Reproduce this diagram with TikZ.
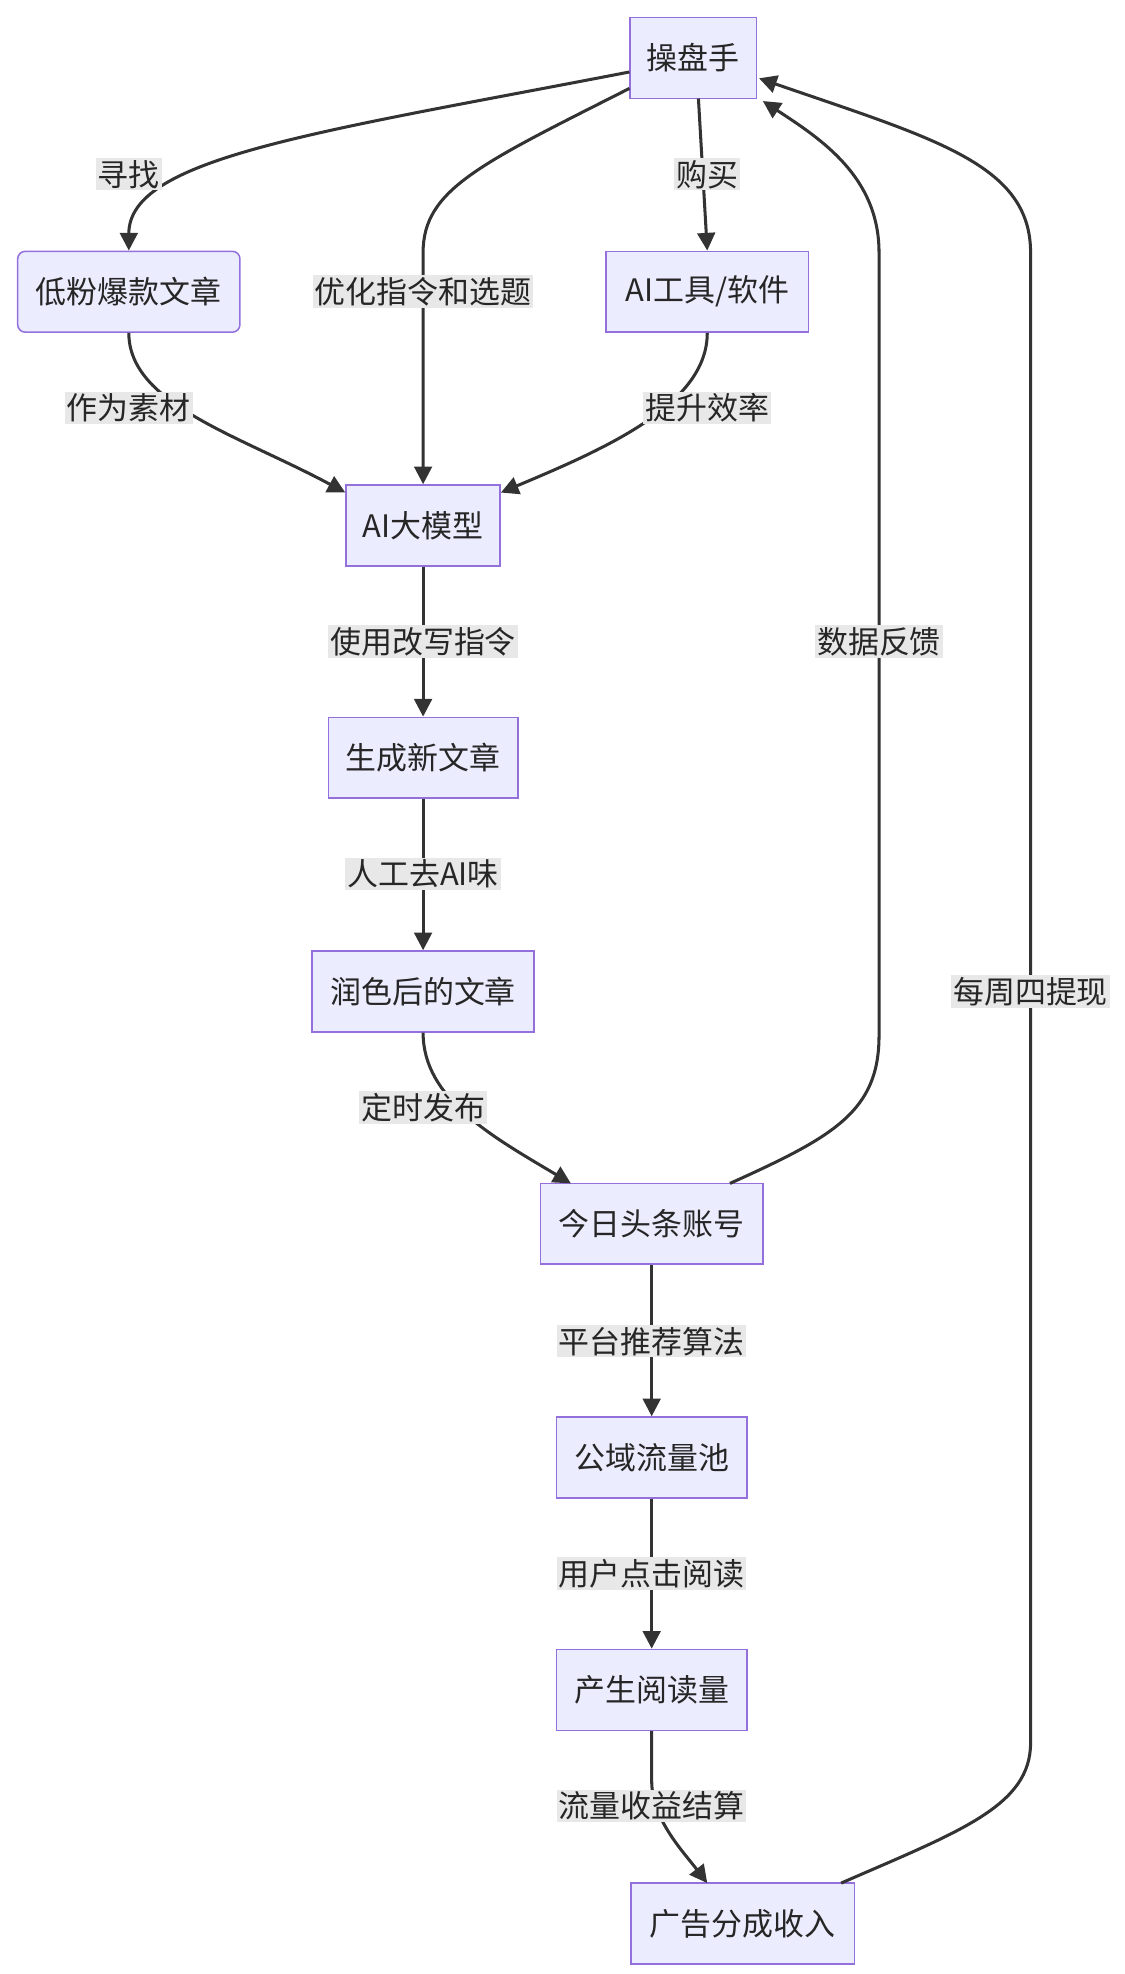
\documentclass[tikz,border=0pt]{standalone}
\usepackage{fontspec}
\setmainfont{Noto Sans CJK SC}
\usetikzlibrary{arrows.meta}
\begin{document}
\begin{tikzpicture}[x=1pt,y=-1pt,
 box/.style={draw={rgb,255:red,147;green,112;blue,219},fill={rgb,255:red,236;green,236;blue,255},line width=1.2pt,minimum height=64pt,inner sep=0pt,font=\fontsize{24.5}{28}\selectfont,text=black!85},
 lab/.style={fill={rgb,255:red,232;green,232;blue,232},inner sep=1.5pt,font=\fontsize{24.5}{28}\selectfont,text=black!85},
 e/.style={draw={rgb,255:red,51;green,51;blue,51},line width=2.4pt,-{Triangle[length=14pt,width=14pt]}}]
\useasboundingbox (0,0) rectangle (890,1563);
\node[box,minimum width=100pt] (op) at (549,46) {操盘手};
\node[box,minimum width=176pt,rounded corners=6pt] (lf) at (102,231) {低粉爆款文章};
\node[box,minimum width=160pt] (tool) at (560,231) {AI工具/软件};
\node[box,minimum width=122pt] (ai) at (335,416) {AI大模型};
\node[box,minimum width=150pt] (gen) at (335,600) {生成新文章};
\node[box,minimum width=176pt] (pol) at (335,785) {润色后的文章};
\node[box,minimum width=176pt] (tt) at (516,969) {今日头条账号};
\node[box,minimum width=151pt] (pool) at (516,1154) {公域流量池};
\node[box,minimum width=151pt] (read) at (516,1338) {产生阅读量};
\node[box,minimum width=177pt] (ad) at (588,1523) {广告分成收入};

\draw[e] (op.west|-0,57) .. controls (250,105) and (102,125) .. (lf.north);
\draw[e] (op.west|-0,70) .. controls (380,130) and (335,150) .. (335,200) -- (ai.north);
\draw[e] (553,78) -- (tool.north);
\draw[e] (lf.south) .. controls (102,320) and (190,345) .. (ai.west|-0,390);
\draw[e] (tool.south) .. controls (560,320) and (480,355) .. (ai.east|-0,390);
\draw[e] (ai) -- (gen);
\draw[e] (gen) -- (pol);
\draw[e] (pol.south) .. controls (335,870) and (390,900) .. (452,937);
\draw[e] (578,937) .. controls (660,900) and (696,880) .. (696,820) -- (696,200) .. controls (696,140) and (650,110) .. (604,80);
\draw[e] (tt) -- (pool);
\draw[e] (pool) -- (read);
\draw[e] (read.south) -- (516,1410) .. controls (516,1440) and (540,1465) .. (560,1491);
\draw[e] (666,1491) .. controls (760,1450) and (816,1430) .. (816,1380) -- (816,200) .. controls (816,130) and (740,110) .. (601,62);

\node[lab] at (102,138) {寻找};
\node[lab] at (335,231) {优化指令和选题};
\node[lab] at (560,138) {购买};
\node[lab] at (102,323) {作为素材};
\node[lab] at (560,323) {提升效率};
\node[lab] at (335,508) {使用改写指令};
\node[lab] at (335,692) {人工去AI味};
\node[lab] at (335,877) {定时发布};
\node[lab] at (696,508) {数据反馈};
\node[lab] at (516,1062) {平台推荐算法};
\node[lab] at (516,1246) {用户点击阅读};
\node[lab] at (516,1430) {流量收益结算};
\node[lab] at (816,785) {每周四提现};
\end{tikzpicture}
\end{document}
